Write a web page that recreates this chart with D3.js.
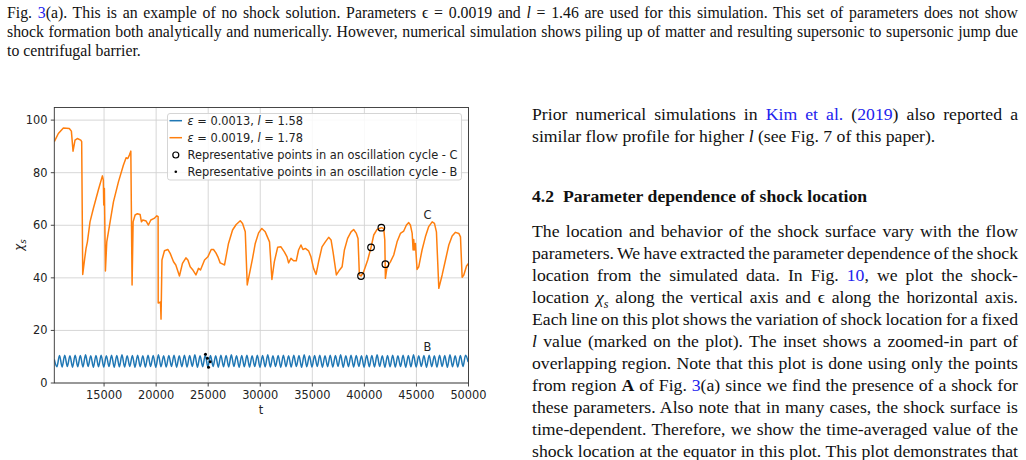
<!DOCTYPE html>
<html>
<head>
<meta charset="utf-8">
<script src="https://cdn.jsdelivr.net/npm/d3@7"></script>
<style>
  body { margin: 0; width: 1026px; height: 460px; background: #fff; position: relative; overflow: hidden; }
  .ln { position: absolute; font-family: "Liberation Serif", "Times New Roman", serif; color: #111; white-space: nowrap; }
  .cap { left: 7px; font-size: 15.8px; line-height: 19px; }
  .col { left: 532px; font-size: 17.7px; line-height: 22px; }
  .lk { color: #2222ee; }
  i { font-style: italic; }
  #chart { position: absolute; left: 0; top: 0; }
</style>
</head>
<body>
<div class="ln cap just" data-w="1011" style="top:3px">Fig. <span class="lk">3</span>(a). This is an example of no shock solution. Parameters ϵ = 0.0019 and <i>l</i> = 1.46 are used for this simulation. This set of parameters does not show</div>
<div class="ln cap just" data-w="1011" style="top:22px">shock formation both analytically and numerically. However, numerical simulation shows piling up of matter and resulting supersonic to supersonic jump due</div>
<div class="ln cap" style="top:41px">to centrifugal barrier.</div>

<div class="ln col just" data-w="486" style="top:103px">Prior numerical simulations in <span class="lk">Kim et al.</span> (<span class="lk">2019</span>) also reported a</div>
<div class="ln col" style="top:125px">similar flow profile for higher <i>l</i> (see Fig. 7 of this paper).</div>
<div class="ln col" style="top:185px; font-weight:bold">4.2&nbsp; Parameter dependence of shock location</div>
<div class="ln col just" data-w="486" style="top:220px">The location and behavior of the shock surface vary with the flow</div>
<div class="ln col just" data-w="486" style="top:242px">parameters. We have extracted the parameter dependence of the shock</div>
<div class="ln col just" data-w="486" style="top:264px">location from the simulated data. In Fig. <span class="lk">10</span>, we plot the shock-</div>
<div class="ln col just" data-w="486" style="top:286px">location <i>χ<sub style="font-size:12px">s</sub></i> along the vertical axis and ϵ along the horizontal axis.</div>
<div class="ln col just" data-w="486" style="top:308px">Each line on this plot shows the variation of shock location for a fixed</div>
<div class="ln col just" data-w="486" style="top:330px"><i>l</i> value (marked on the plot). The inset shows a zoomed-in part of</div>
<div class="ln col just" data-w="486" style="top:352px">overlapping region. Note that this plot is done using only the points</div>
<div class="ln col just" data-w="486" style="top:374px">from region <b>A</b> of Fig. <span class="lk">3</span>(a) since we find the presence of a shock for</div>
<div class="ln col just" data-w="486" style="top:396px">these parameters. Also note that in many cases, the shock surface is</div>
<div class="ln col just" data-w="486" style="top:418px">time-dependent. Therefore, we show the time-averaged value of the</div>
<div class="ln col just" data-w="486" style="top:440px">shock location at the equator in this plot. This plot demonstrates that</div>

<svg id="chart" width="500" height="460"></svg>
<script>
// orange series: eps = 0.0019, l = 1.78
var orangeT = [10220, 10610, 11090, 11660, 11860, 12020, 12210, 12430, 12760, 12850,
  12950, 13140, 13270, 13400, 13650, 13970, 14450, 14840, 14930, 14970,
  15030, 15130, 15260, 15580, 15900, 16380, 16860, 17115, 17280, 17430,
  17570, 17690, 17790, 17980, 18200, 18460, 18590, 18720, 19040, 19260,
  19490, 19810, 20070, 20190, 20200, 20420, 20470, 20560, 20800, 21120,
  21350, 21670, 21890, 22240, 22530, 22860, 23050, 23270, 23490, 23820,
  24070, 24260, 24650, 24970, 25290, 25510, 25740, 25930, 26150, 26410,
  26570, 26950, 27340, 27690, 28080, 28300, 28560, 28750, 29040, 29260,
  29520, 29840, 30150, 30480, 30890, 31120, 31350, 31670, 31990, 32310,
  32570, 32720, 32950, 33200, 33460, 33680, 33910, 34100, 34330, 34640,
  34870, 35120, 35360, 35600, 35930, 36250, 36570, 36800, 36990, 37310,
  37620, 37860, 38080, 38390, 38720, 38970, 39230, 39390, 39520, 39680,
  39930, 40320, 40640, 40900, 41220, 41630, 41860, 41960, 42020, 42180,
  42500, 42820, 43140, 43460, 43780, 44040, 44260, 44420, 44590, 44680,
  44740, 44800, 44900, 45060, 45220, 45540, 45860, 46180, 46510, 46730,
  46920, 47150, 47470, 47790, 48110, 48430, 48750, 49070, 49230, 49390,
  49550, 49810, 50000]
var orangeChi = [91.8, 94.9, 97.0, 96.8, 95.8, 88.2, 92.4, 93.0, 92.4, 91.8,
  41.3, 47.4, 51.2, 53.7, 61.3, 66.4, 73.4, 78.8, 77.2, 67.7,
  74.0, 42.6, 53.7, 61.3, 68.9, 76.5, 82.9, 85.7, 85.4, 86.7,
  88.2, 37.3, 61.3, 63.9, 64.4, 64.1, 61.3, 62.0, 61.6, 60.1,
  62.0, 62.6, 63.6, 63.3, 30.4, 30.8, 24.3, 46.8, 50.3, 50.8,
  49.3, 46.1, 44.9, 40.7, 45.5, 47.6, 46.8, 44.2, 43.2, 41.1,
  43.6, 43.0, 46.8, 48.0, 50.8, 50.8, 49.5, 48.0, 45.7, 45.2,
  44.9, 53.1, 58.2, 60.3, 61.7, 60.7, 57.5, 37.3, 43.0, 47.4,
  53.1, 57.1, 58.8, 57.5, 53.7, 39.4, 46.1, 51.6, 51.8, 49.9,
  48.0, 45.7, 47.4, 46.5, 46.5, 50.6, 52.5, 50.8, 51.2, 50.3,
  48.0, 43.6, 41.3, 46.1, 51.8, 53.7, 55.4, 54.4, 49.9, 41.1,
  43.0, 44.2, 50.6, 55.0, 57.5, 58.4, 56.9, 55.0, 41.1, 40.7,
  42.3, 46.8, 51.6, 56.3, 58.4, 59.1, 58.8, 54.4, 39.8, 44.2,
  46.1, 48.7, 53.7, 56.9, 57.8, 60.1, 61.0, 60.1, 56.9, 50.6,
  54.6, 50.6, 53.1, 43.2, 44.2, 50.6, 55.6, 59.5, 61.3, 60.7,
  57.5, 36.0, 41.1, 46.8, 52.5, 55.9, 57.3, 56.9, 55.6, 40.2,
  41.1, 44.5, 45.5]

// blue series: eps = 0.0013, l = 1.58, sampled every 250 in t from 10220
var blueT0 = 10220, blueDt = 250
var blueChi = [9.0, 6.2, 10.5, 6.1, 10.6, 6.3, 10.4, 6.0, 10.6, 6.2,
  10.5, 6.1, 10.7, 6.3, 10.4, 6.0, 10.5, 6.2, 10.6, 6.1,
  10.4, 6.3, 10.6, 6.0, 10.5, 6.2, 10.7, 6.1, 10.4, 6.3,
  10.5, 6.0, 10.6, 6.2, 10.4, 6.1, 10.6, 6.3, 10.5, 6.0,
  10.7, 6.2, 10.4, 6.1, 10.5, 6.3, 10.6, 6.0, 10.4, 6.2,
  10.6, 6.1, 10.5, 6.3, 10.7, 6.0, 10.4, 6.2, 10.6, 6.1,
  10.5, 6.3, 10.4, 6.0, 10.6, 6.2, 10.5, 6.1, 10.7, 6.3,
  10.4, 6.0, 10.5, 6.2, 10.6, 6.1, 10.4, 6.3, 10.6, 6.0,
  10.5, 6.2, 10.7, 6.1, 10.4, 6.3, 10.5, 6.0, 10.6, 6.2,
  10.4, 6.1, 10.6, 6.3, 10.5, 6.0, 10.7, 6.2, 10.4, 6.1,
  10.5, 6.3, 10.6, 6.0, 10.4, 6.2, 10.6, 6.1, 10.5, 6.3,
  10.7, 6.0, 10.4, 6.2, 10.6, 6.1, 10.5, 6.3, 10.4, 6.0,
  10.6, 6.2, 10.5, 6.1, 10.7, 6.3, 10.4, 6.0, 10.5, 6.2,
  10.6, 6.1, 10.4, 6.3, 10.6, 6.0, 10.5, 6.2, 10.7, 6.1,
  10.4, 6.3, 10.5, 6.0, 10.6, 6.2, 10.4, 6.1, 10.6, 6.3,
  10.5, 6.0, 10.7, 6.2, 10.4, 6.1, 10.5, 6.3, 10.6, 8.0]

// representative points
var cT = [39680, 40640, 41630, 42020]
var cChi = [40.7, 51.6, 59.1, 45.2]
var bT = [24740, 24930, 25190, 25030]
var bChi = [10.9, 9.4, 8.1, 6.0]

var xTicks = [15000, 20000, 25000, 30000, 35000, 40000, 45000, 50000]
var yTicks = [0, 20, 40, 60, 80, 100]
var legendLabels = ["Representative points in an oscillation cycle - C",
                    "Representative points in an oscillation cycle - B"]

// justify the page text lines by spreading word gaps (they can also shrink)
d3.selectAll(".just").each(function () {
  var target = +this.getAttribute("data-w")
  var natural = this.getBoundingClientRect().width
  var gaps = (this.textContent.match(/ /g) || []).length
  if (gaps > 0) this.style.wordSpacing = ((target - natural) / gaps) + "px"
})

var svg = d3.select("#chart")
var font = "DejaVu Sans, sans-serif"
var fs = 11.4

var x = d3.scaleLinear().domain([10220, 50000]).range([54.3, 468.5])
var y = d3.scaleLinear().domain([0, 104.8]).range([383, 107.5])

// grid
svg.append("g").selectAll("line").data(xTicks).enter().append("line")
  .attr("x1", d => x(d)).attr("x2", d => x(d)).attr("y1", y(104.8)).attr("y2", y(0))
  .attr("stroke", "#d2d2d2").attr("stroke-width", 0.9)
svg.append("g").selectAll("line").data(yTicks).enter().append("line")
  .attr("x1", x(10220)).attr("x2", x(50000)).attr("y1", d => y(d)).attr("y2", d => y(d))
  .attr("stroke", "#d2d2d2").attr("stroke-width", 0.9)

svg.append("clipPath").attr("id", "clp").append("rect")
  .attr("x", 54.3).attr("y", 107.5).attr("width", 414.2).attr("height", 275.5)

// blue
var blueData = blueChi.map((v, i) => [blueT0 + i * blueDt, v])
svg.append("path").datum(blueData)
  .attr("clip-path", "url(#clp)")
  .attr("d", d3.line().x(d => x(d[0])).y(d => y(d[1])).curve(d3.curveMonotoneX))
  .attr("fill", "none").attr("stroke", "#1f77b4").attr("stroke-width", 1.5)

// orange
var orangeData = orangeT.map((t, i) => [t, orangeChi[i]])
svg.append("path").datum(orangeData)
  .attr("clip-path", "url(#clp)")
  .attr("d", d3.line().x(d => x(d[0])).y(d => y(d[1])))
  .attr("fill", "none").attr("stroke", "#ff7f0e").attr("stroke-width", 1.5)
  .attr("stroke-linejoin", "round")

// circles C
svg.append("g").selectAll("circle").data(cT).enter().append("circle")
  .attr("cx", d => x(d)).attr("cy", (d, i) => y(cChi[i])).attr("r", 3.3)
  .attr("fill", "none").attr("stroke", "#000").attr("stroke-width", 1.2)
// dots B
svg.append("g").selectAll("circle").data(bT).enter().append("circle")
  .attr("cx", d => x(d)).attr("cy", (d, i) => y(bChi[i])).attr("r", 1.5)
  .attr("fill", "#000")

svg.append("text").attr("x", x(46060)).attr("y", y(63.9) + 4).attr("text-anchor", "middle")
  .attr("font-family", font).attr("font-size", fs).attr("fill", "#222").text("C")
svg.append("text").attr("x", x(46060)).attr("y", y(13.7) + 4).attr("text-anchor", "middle")
  .attr("font-family", font).attr("font-size", fs).attr("fill", "#222").text("B")

// spines
svg.append("rect").attr("x", 54.3).attr("y", 107.5).attr("width", 414.2).attr("height", 275.5)
  .attr("fill", "none").attr("stroke", "#333").attr("stroke-width", 0.9)

// ticks
svg.append("g").selectAll("line").data(xTicks).enter().append("line")
  .attr("x1", d => x(d)).attr("x2", d => x(d)).attr("y1", 383).attr("y2", 386.5)
  .attr("stroke", "#333").attr("stroke-width", 0.9)
svg.append("g").selectAll("text").data(xTicks).enter().append("text")
  .attr("x", d => x(d)).attr("y", 398.5).attr("text-anchor", "middle")
  .attr("font-family", font).attr("font-size", fs).attr("fill", "#222").text(d => d)
svg.append("g").selectAll("line").data(yTicks).enter().append("line")
  .attr("x1", 50.8).attr("x2", 54.3).attr("y1", d => y(d)).attr("y2", d => y(d))
  .attr("stroke", "#333").attr("stroke-width", 0.9)
svg.append("g").selectAll("text").data(yTicks).enter().append("text")
  .attr("x", 47.5).attr("y", d => y(d) + 4).attr("text-anchor", "end")
  .attr("font-family", font).attr("font-size", fs).attr("fill", "#222").text(d => d)

svg.append("text").attr("x", 261).attr("y", 414).attr("text-anchor", "middle")
  .attr("font-family", font).attr("font-size", fs).attr("fill", "#222").text("t")
var yl = svg.append("text").attr("transform", "translate(23,245) rotate(-90)")
  .attr("text-anchor", "middle").attr("font-family", font).attr("font-size", 11.5).attr("fill", "#222")
yl.append("tspan").attr("font-style", "italic").text("χ")
yl.append("tspan").attr("font-style", "italic").attr("font-size", 8.5).attr("dy", 2.5).text("s")

// legend
var lg = svg.append("g")
lg.append("rect").attr("x", 167.5).attr("y", 113.5).attr("width", 294).attr("height", 66.5)
  .attr("rx", 2.5).attr("fill", "#fff").attr("fill-opacity", 0.85).attr("stroke", "#d0d0d0").attr("stroke-width", 0.9)
var rows = [120.7, 137.7, 155, 171.7]
lg.append("line").attr("x1", 169.5).attr("x2", 182).attr("y1", rows[0]).attr("y2", rows[0])
  .attr("stroke", "#1f77b4").attr("stroke-width", 1.5)
lg.append("line").attr("x1", 169.5).attr("x2", 182).attr("y1", rows[1]).attr("y2", rows[1])
  .attr("stroke", "#ff7f0e").attr("stroke-width", 1.5)
lg.append("circle").attr("cx", 175.8).attr("cy", rows[2]).attr("r", 3)
  .attr("fill", "none").attr("stroke", "#000").attr("stroke-width", 1.2)
lg.append("circle").attr("cx", 175.8).attr("cy", rows[3]).attr("r", 1.3).attr("fill", "#000")

function paramLabel(g, yy, eps, ell) {
  var t = g.append("text").attr("x", 187.5).attr("y", yy + 4)
    .attr("font-family", font).attr("font-size", fs).attr("fill", "#222")
  t.append("tspan").attr("font-style", "italic").text("ε")
  t.append("tspan").text(" = " + eps + ", ")
  t.append("tspan").attr("font-style", "italic").text("l")
  t.append("tspan").text(" = " + ell)
}
paramLabel(lg, rows[0], "0.0013", "1.58")
paramLabel(lg, rows[1], "0.0019", "1.78")
lg.append("text").attr("x", 187.5).attr("y", rows[2] + 4)
  .attr("font-family", font).attr("font-size", fs).attr("fill", "#222").text(legendLabels[0])
lg.append("text").attr("x", 187.5).attr("y", rows[3] + 4)
  .attr("font-family", font).attr("font-size", fs).attr("fill", "#222").text(legendLabels[1])
</script>
</body>
</html>
